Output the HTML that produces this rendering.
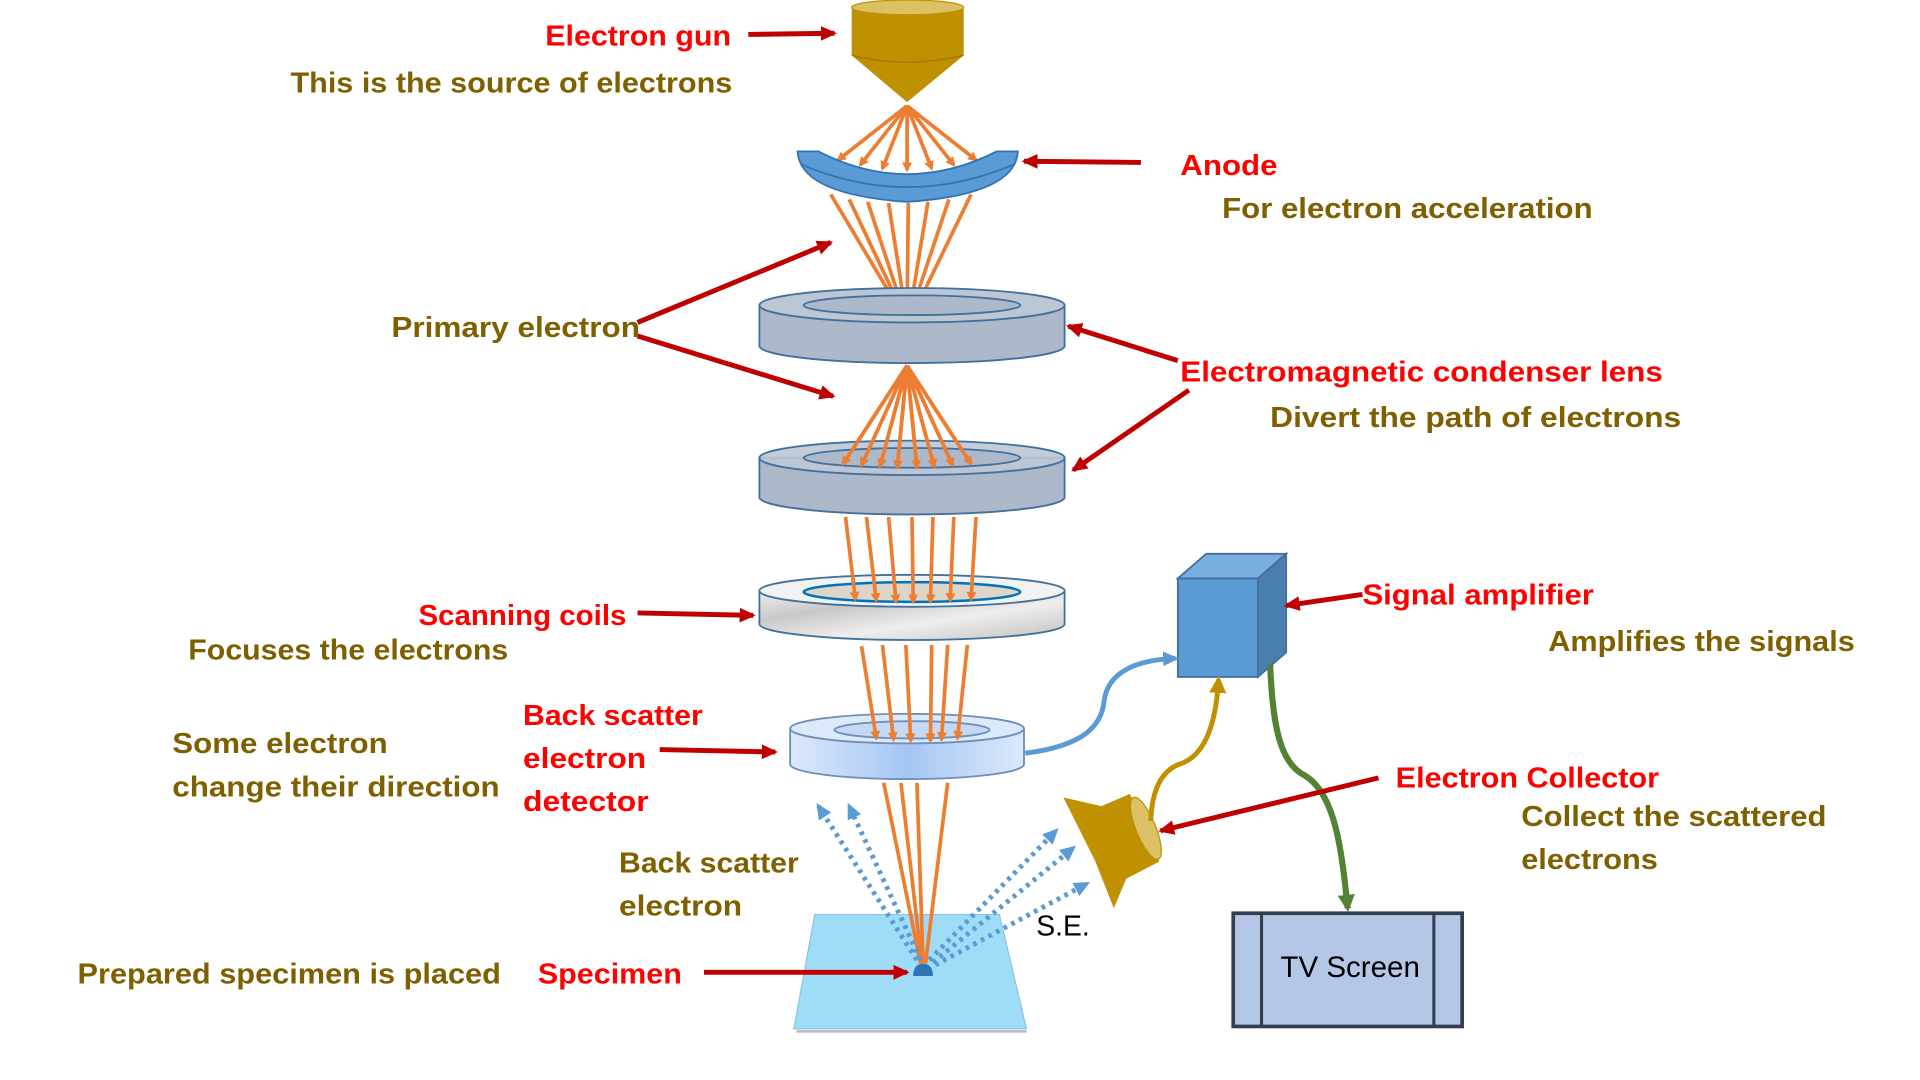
<!DOCTYPE html>
<html><head><meta charset="utf-8"><style>
html,body{margin:0;padding:0;background:#fff;width:1920px;height:1080px;overflow:hidden}
svg{display:block}
.r{fill:#ff0000;font-family:"Liberation Sans",sans-serif;font-weight:bold;font-size:23px}
.o{fill:#7f6000;font-family:"Liberation Sans",sans-serif;font-weight:bold;font-size:23px}
</style></head><body>
<svg width="1920" height="1080" viewBox="0 0 1560 877.5" xmlns="http://www.w3.org/2000/svg">
<defs>
<marker id="ao" markerWidth="8" markerHeight="8" refX="6" refY="4" orient="auto" markerUnits="userSpaceOnUse"><path d="M0,0 L8,4 L0,8 z" fill="#ed7d31"/></marker>
<marker id="ar" markerWidth="14" markerHeight="14" refX="11" refY="7" orient="auto" markerUnits="userSpaceOnUse"><path d="M0,1 L13,7 L0,13 z" fill="#c00000"/></marker>
<marker id="ab" markerWidth="14" markerHeight="14" refX="10" refY="7" orient="auto" markerUnits="userSpaceOnUse"><path d="M0,1 L13,7 L0,13 z" fill="#5b9bd5"/></marker>
<marker id="ag" markerWidth="16" markerHeight="16" refX="11" refY="8" orient="auto" markerUnits="userSpaceOnUse"><path d="M0,1 L14,8 L0,15 z" fill="#bf9000"/></marker>
<marker id="agr" markerWidth="16" markerHeight="16" refX="11" refY="8" orient="auto" markerUnits="userSpaceOnUse"><path d="M0,1 L14,8 L0,15 z" fill="#548235"/></marker>
<linearGradient id="det" x1="0" x2="1"><stop offset="0" stop-color="#dce9fa"/><stop offset="0.5" stop-color="#a4c6f4"/><stop offset="1" stop-color="#dce9fa"/></linearGradient>
<linearGradient id="mar" x1="0" x2="1" y1="0" y2="1"><stop offset="0" stop-color="#f0f0f0"/><stop offset="0.3" stop-color="#c8c8c8"/><stop offset="0.6" stop-color="#eeeeee"/><stop offset="1" stop-color="#c0c0c0"/></linearGradient>
</defs>

<!-- electron gun -->
<path d="M692,6 L692,45 L737,83 L783,45 L783,6 Z" fill="#bf9000"/>
<ellipse cx="737.5" cy="6" rx="45.5" ry="6" fill="#dcc064" stroke="#bf9000"/>
<path d="M692,45 Q737,56 783,45" fill="none" stroke="#a07800" stroke-width="1"/>

<!-- rays gun -> anode -->
<g stroke="#ed7d31" stroke-width="3" marker-end="url(#ao)">
<line x1="737" y1="86" x2="681" y2="130"/><line x1="737" y1="86" x2="699" y2="134"/>
<line x1="737" y1="86" x2="717" y2="137"/><line x1="737" y1="86" x2="737" y2="138"/>
<line x1="737" y1="86" x2="757" y2="137"/><line x1="737" y1="86" x2="775" y2="134"/>
<line x1="737" y1="86" x2="793" y2="130"/>
</g>

<!-- anode -->
<path d="M648,123 L665,123 Q737,160 810,123 L827,123 Q825,158 737,164 Q650,158 648,123 Z" fill="#5b9bd5" stroke="#2e75b6" stroke-width="1.5"/>
<path d="M652,134 Q737,170 823,134" fill="none" stroke="#2e75b6" stroke-width="1.5"/>

<!-- rays anode -> lens1 -->
<g stroke="#ed7d31" stroke-width="3" marker-end="url(#ao)">
<line x1="675" y1="158" x2="733" y2="255"/><line x1="690" y1="162" x2="734" y2="255"/>
<line x1="705" y1="164" x2="735" y2="255"/><line x1="722" y1="165" x2="736" y2="255"/>
<line x1="738" y1="165" x2="737" y2="255"/><line x1="754" y1="164" x2="739" y2="255"/>
<line x1="771" y1="162" x2="740" y2="255"/><line x1="789" y1="158" x2="742" y2="255"/>
</g>

<!-- lens 1 -->
<path d="M617,248 L617,281 A124,14 0 0 0 865,281 L865,248 Z" fill="#adb9ca" stroke="#41719c" stroke-width="1.5"/>
<ellipse cx="741" cy="248" rx="124" ry="14" fill="#bcc6d4" stroke="#41719c" stroke-width="1.5"/>
<ellipse cx="741" cy="248" rx="88" ry="8" fill="#adb9ca" stroke="#41719c" stroke-width="1.5"/>

<!-- rays -> lens2 -->
<g stroke="#ed7d31" stroke-width="3" marker-end="url(#ao)">
<line x1="737" y1="297" x2="685" y2="377"/><line x1="737" y1="297" x2="700" y2="378"/>
<line x1="737" y1="297" x2="715" y2="379"/><line x1="737" y1="297" x2="729" y2="380"/>
<line x1="737" y1="297" x2="745" y2="380"/><line x1="737" y1="297" x2="759" y2="379"/>
<line x1="737" y1="297" x2="774" y2="378"/><line x1="737" y1="297" x2="789" y2="377"/>
</g>

<!-- lens 2 -->
<path d="M617,372 L617,404 A124,14 0 0 0 865,404 L865,372 Z" fill="#adb9ca" stroke="#41719c" stroke-width="1.5"/>
<ellipse cx="741" cy="372" rx="124" ry="14" fill="#bcc6d4" stroke="#41719c" stroke-width="1.5" fill-opacity="0.9"/>
<ellipse cx="741" cy="372" rx="88" ry="8" fill="#adb9ca" stroke="#41719c" stroke-width="1.5"/>
<g stroke="#ed7d31" stroke-width="3" marker-end="url(#ao)">
<line x1="737" y1="297" x2="685" y2="377"/><line x1="737" y1="297" x2="700" y2="378"/>
<line x1="737" y1="297" x2="715" y2="379"/><line x1="737" y1="297" x2="729" y2="380"/>
<line x1="737" y1="297" x2="745" y2="380"/><line x1="737" y1="297" x2="759" y2="379"/>
<line x1="737" y1="297" x2="774" y2="378"/><line x1="737" y1="297" x2="789" y2="377"/>
</g>

<!-- scanning coils -->
<path d="M617,480 L617,507 A124,13 0 0 0 865,507 L865,480 Z" fill="url(#mar)" stroke="#41719c" stroke-width="1.5"/>
<ellipse cx="741" cy="480" rx="124" ry="13" fill="#f2f2f2" stroke="#41719c" stroke-width="1.5"/>
<ellipse cx="741" cy="481" rx="88" ry="8" fill="#ddd6c8" stroke="#0070c0" stroke-width="2"/>
<g stroke="#ed7d31" stroke-width="3" marker-end="url(#ao)">
<line x1="687" y1="420" x2="695" y2="487"/><line x1="704" y1="420" x2="712" y2="488"/>
<line x1="722" y1="420" x2="728" y2="489"/><line x1="741" y1="420" x2="742" y2="489"/>
<line x1="758" y1="420" x2="756" y2="489"/><line x1="775" y1="420" x2="772" y2="488"/>
<line x1="793" y1="420" x2="789" y2="487"/>
</g>

<!-- detector -->
<path d="M642,592 L642,621 A95,12 0 0 0 832,621 L832,592 Z" fill="url(#det)" stroke="#6f8fb8" stroke-width="1.5"/>
<ellipse cx="737" cy="592" rx="95" ry="12" fill="#dce9fa" stroke="#6f8fb8" stroke-width="1.5"/>
<ellipse cx="741" cy="593" rx="63" ry="7" fill="#c5d9f5" stroke="#6f8fb8" stroke-width="1.5"/>
<g stroke="#ed7d31" stroke-width="3" marker-end="url(#ao)">
<line x1="700" y1="525" x2="712" y2="600"/><line x1="717" y1="524" x2="726" y2="601"/>
<line x1="736" y1="524" x2="740" y2="602"/><line x1="757" y1="524" x2="756" y2="602"/>
<line x1="770" y1="524" x2="765" y2="601"/><line x1="786" y1="524" x2="778" y2="600"/>
</g>

<!-- specimen -->
<path d="M662,743 L812,743 L834,836 L645,836 Z" fill="#9fdcf8" stroke="#8bc4e6" stroke-width="1"/>
<line x1="647" y1="838" x2="834" y2="838" stroke="#bbb" stroke-width="2"/>

<!-- rays detector -> specimen -->
<g stroke="#ed7d31" stroke-width="3">
<line x1="718" y1="636" x2="748" y2="783"/><line x1="732" y1="636" x2="749" y2="783"/>
<line x1="745" y1="636" x2="750" y2="783"/><line x1="770" y1="636" x2="752" y2="783"/>
</g>
<path d="M742,793 Q742,783 750,783 Q758,783 758,793 Z" fill="#2e75b6"/>

<!-- dotted blue -->
<g stroke="#5b9bd5" stroke-width="4" stroke-dasharray="3,4" fill="none" marker-end="url(#ab)">
<line x1="745" y1="780" x2="665" y2="655"/><line x1="748" y1="780" x2="690" y2="655"/>
<line x1="755" y1="780" x2="858" y2="675"/><line x1="758" y1="782" x2="872" y2="689"/>
<line x1="760" y1="784" x2="883" y2="718"/>
</g>
<text x="842" y="760" font-family="Liberation Sans,sans-serif" font-size="23" fill="#000">S.E.</text>

<!-- collector -->
<path d="M864,648 L895,655 L918,645 L942,700 L915,714 L905,738 L890,700 Z" fill="#bf9000"/>
<ellipse cx="931" cy="673" rx="8" ry="27" transform="rotate(-22 931 673)" fill="#dcc064" stroke="#bf9000"/>

<!-- amplifier cube -->
<path d="M957,470 L980,450 L1045,450 L1022,470 Z" fill="#7aaee0" stroke="#41719c" stroke-width="1.5"/>
<path d="M1022,470 L1045,450 L1045,530 L1022,550 Z" fill="#4a7ead" stroke="#41719c" stroke-width="1.5"/>
<rect x="957" y="470" width="65" height="80" fill="#5b9bd5" stroke="#41719c" stroke-width="1.5"/>

<!-- connectors -->
<path d="M833,612 C880,606 895,590 897,570 C900,545 925,536 955,535" fill="none" stroke="#5b9bd5" stroke-width="4" marker-end="url(#ab)"/>
<path d="M935,667 C936,640 945,626 958,621 C978,615 988,590 990,552" fill="none" stroke="#bf9000" stroke-width="4" marker-end="url(#ag)"/>
<path d="M1032,540 C1034,590 1040,620 1060,630 C1085,645 1090,690 1095,738" fill="none" stroke="#548235" stroke-width="5" marker-end="url(#agr)"/>

<!-- TV -->
<rect x="1002" y="742" width="186" height="92" fill="#b4c7e7" stroke="#333f50" stroke-width="3"/>
<line x1="1025" y1="742" x2="1025" y2="834" stroke="#333f50" stroke-width="2.5"/>
<line x1="1165" y1="742" x2="1165" y2="834" stroke="#333f50" stroke-width="2.5"/>
<text x="1097" y="794" text-anchor="middle" font-family="Liberation Sans,sans-serif" font-size="24" fill="#000">TV Screen</text>

<!-- red arrows -->
<g stroke="#c00000" stroke-width="4" marker-end="url(#ar)">
<line x1="608" y1="28" x2="678" y2="27"/>
<line x1="927" y1="132" x2="832" y2="131"/>
<line x1="518" y1="262" x2="675" y2="197"/>
<line x1="518" y1="273" x2="677" y2="322"/>
<line x1="957" y1="293" x2="868" y2="265"/>
<line x1="966" y1="317" x2="872" y2="382"/>
<line x1="518" y1="498" x2="612" y2="500"/>
<line x1="536" y1="609" x2="630" y2="611"/>
<line x1="1107" y1="483" x2="1045" y2="492"/>
<line x1="1120" y1="632" x2="943" y2="675"/>
<line x1="572" y1="790" x2="737" y2="790"/>
</g>

<!-- labels -->
<text class="r" x="443" y="37" textLength="151" lengthAdjust="spacingAndGlyphs">Electron gun</text>
<text class="o" x="236" y="75" textLength="359" lengthAdjust="spacingAndGlyphs">This is the source of electrons</text>
<text class="r" x="959" y="142" textLength="79" lengthAdjust="spacingAndGlyphs">Anode</text>
<text class="o" x="993" y="177" textLength="301" lengthAdjust="spacingAndGlyphs">For electron acceleration</text>
<text class="o" x="318" y="274" textLength="202" lengthAdjust="spacingAndGlyphs">Primary electron</text>
<text class="r" x="959" y="310" textLength="392" lengthAdjust="spacingAndGlyphs">Electromagnetic condenser  lens</text>
<text class="o" x="1032" y="347" textLength="334" lengthAdjust="spacingAndGlyphs">Divert the path of electrons</text>
<text class="r" x="340" y="508" textLength="169" lengthAdjust="spacingAndGlyphs">Scanning coils</text>
<text class="o" x="153" y="536" textLength="260" lengthAdjust="spacingAndGlyphs">Focuses the electrons</text>
<text class="r" x="425" y="589" textLength="146" lengthAdjust="spacingAndGlyphs">Back scatter</text>
<text class="r" x="425" y="624" textLength="100" lengthAdjust="spacingAndGlyphs">electron</text>
<text class="r" x="425" y="659" textLength="102" lengthAdjust="spacingAndGlyphs">detector</text>
<text class="o" x="140" y="612" textLength="175" lengthAdjust="spacingAndGlyphs">Some electron</text>
<text class="o" x="140" y="647" textLength="266" lengthAdjust="spacingAndGlyphs">change their direction</text>
<text class="o" x="503" y="709" textLength="146" lengthAdjust="spacingAndGlyphs">Back scatter</text>
<text class="o" x="503" y="744" textLength="100" lengthAdjust="spacingAndGlyphs">electron</text>
<text class="o" x="63" y="799" textLength="344" lengthAdjust="spacingAndGlyphs">Prepared specimen is placed</text>
<text class="r" x="437" y="799" textLength="117" lengthAdjust="spacingAndGlyphs">Specimen</text>
<text class="r" x="1107" y="491" textLength="188" lengthAdjust="spacingAndGlyphs">Signal amplifier</text>
<text class="o" x="1258" y="529" textLength="249" lengthAdjust="spacingAndGlyphs">Amplifies the signals</text>
<text class="r" x="1134" y="640" textLength="214" lengthAdjust="spacingAndGlyphs">Electron Collector</text>
<text class="o" x="1236" y="671" textLength="248" lengthAdjust="spacingAndGlyphs">Collect the scattered</text>
<text class="o" x="1236" y="706" textLength="111" lengthAdjust="spacingAndGlyphs">electrons</text>
</svg>
</body></html>
